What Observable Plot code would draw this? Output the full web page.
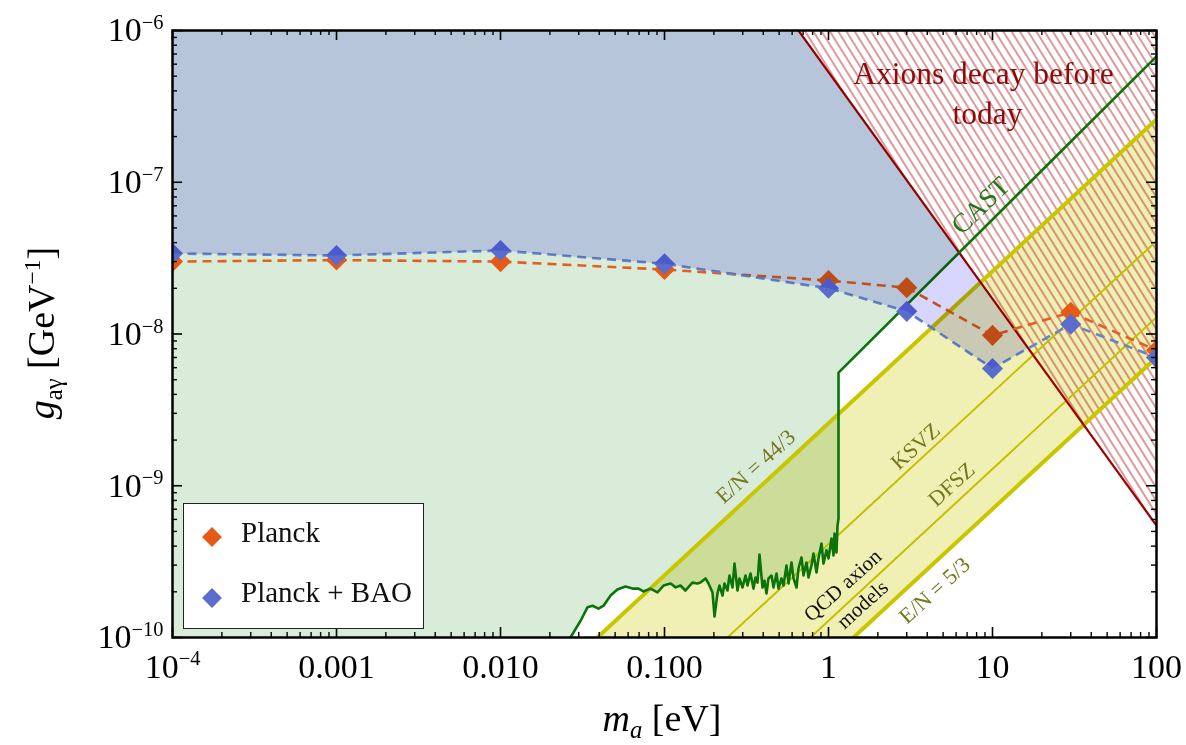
<!DOCTYPE html>
<html>
<head>
<meta charset="utf-8">
<script src="https://cdn.jsdelivr.net/npm/d3@7"></script>
<script src="https://cdn.jsdelivr.net/npm/@observablehq/plot@0.6"></script>
<style>
  html, body { margin: 0; padding: 0; background: white; }
  #wrap { position: relative; width: 1186px; height: 745px; }
  #legend { position: absolute; left: 183px; top: 503px; width: 241px; height: 126px;
    border: 1.5px solid #222; background: white; box-sizing: border-box;
    font-family: 'Liberation Serif', 'DejaVu Serif', serif; font-size: 29px; color: #111; }
  #legend .dia { position: absolute; width: 14px; height: 14px; transform: rotate(45deg); }
  #legend .lab { position: absolute; line-height: 1; white-space: pre; }
</style>
</head>
<body>
<div id="wrap"></div>
<script>
// ---------------- data ----------------
const massTicks = [1e-4, 1e-3, 1e-2, 1e-1, 1, 10, 100];
const massTickLabels = ["10^-4", "0.001", "0.010", "0.100", "1", "10", "100"];
const couplingTicks = [1e-10, 1e-9, 1e-8, 1e-7, 1e-6];
const couplingTickLabels = ["10^-10", "10^-9", "10^-8", "10^-7", "10^-6"];

const seriesNames = ["Planck", "Planck + BAO"];
const boundMass = [1e-4, 1e-3, 1e-2, 0.1, 1, 3, 10, 30, 100];
const planckBound = [3.0e-8, 3.07e-8, 3.0e-8, 2.66e-8, 2.25e-8, 2.02e-8, 9.8e-9, 1.39e-8, 7.8e-9];
const planckBaoBound = [3.39e-8, 3.29e-8, 3.55e-8, 2.9e-8, 2.0e-8, 1.41e-8, 5.93e-9, 1.16e-8, 7.0e-9];

// helioscope / haloscope limit (m [eV], g [GeV^-1])
const greenLimit = [
  [0.0267,1.0e-10],[0.0308,1.29e-10],[0.0339,1.58e-10],[0.0364,1.62e-10],[0.0396,1.55e-10],
  [0.0425,1.62e-10],[0.0469,1.89e-10],[0.0516,2.07e-10],[0.0578,2.17e-10],[0.0638,2.10e-10],
  [0.0694,2.10e-10],[0.0744,2.01e-10],[0.0822,2.10e-10],[0.0906,1.98e-10],[0.0986,2.20e-10],
  [0.109,2.27e-10],[0.117,2.14e-10],[0.125,2.20e-10],[0.134,2.04e-10],[0.148,2.30e-10],
  [0.159,2.27e-10],[0.1657,2.30e-10],[0.1778,2.45e-10],[0.1855,2.27e-10],[0.1962,1.98e-10],
  [0.2018,1.375e-10],[0.2104,1.95e-10],[0.2164,2.20e-10],[0.2258,1.89e-10],[0.2322,2.27e-10],
  [0.2421,2.04e-10],[0.2490,2.56e-10],[0.2598,2.135e-10],[0.2672,3.07e-10],[0.2787,2.04e-10],
  [0.2866,2.45e-10],[0.2990,2.135e-10],[0.3119,2.56e-10],[0.3208,2.20e-10],[0.3345,2.64e-10],
  [0.3489,2.10e-10],[0.3588,2.485e-10],[0.3690,2.30e-10],[0.3795,3.52e-10],[0.3959,2.135e-10],
  [0.4072,2.37e-10],[0.4188,1.95e-10],[0.4306,2.45e-10],[0.4492,2.56e-10],[0.4620,2.135e-10],
  [0.4819,2.64e-10],[0.4956,2.10e-10],[0.5169,2.45e-10],[0.5317,2.20e-10],[0.5546,2.98e-10],
  [0.5703,2.27e-10],[0.5949,3.12e-10],[0.6118,2.45e-10],[0.6381,2.135e-10],[0.6562,2.85e-10],
  [0.6845,3.37e-10],[0.7040,2.56e-10],[0.7343,3.12e-10],[0.7551,2.485e-10],[0.7876,2.98e-10],
  [0.8100,3.58e-10],[0.8449,2.68e-10],[0.8689,3.32e-10],[0.9063,4.16e-10],[0.9322,3.07e-10],
  [0.9723,3.75e-10],[1.0,3.32e-10],[1.043,4.49e-10],[1.073,3.47e-10],[1.088,4.84e-10],
  [1.119,3.63e-10],[1.135,5.47e-10],[1.151,6.08e-10],[1.151,5.57e-9]
];
const castEnd = [100, 6.74e-7];
const castDecayCrossing = [6.2, 3.44e-8];
const baoDecayCrossing = [16.5, 8.07e-9];

// QCD axion model lines: [bottom crossing, right edge]
const modelLines = {
  "E/N = 44/3": [[0.039, 1e-10], [100, 2.6e-7]],
  "KSVZ":       [[0.242, 1e-10], [100, 4.1e-8]],
  "DFSZ":       [[0.776, 1e-10], [100, 1.29e-8]],
  "E/N = 5/3":  [[1.42, 1e-10], [100, 7.0e-9]]
};
// lifetime line: axions decay before today
const decayLine = [[0.656, 1e-6], [100, 5.47e-10]];

// ---------------- derived geometry ----------------
const xMin = 1e-4, xMax = 100, yMin = 1e-10, yMax = 1e-6;
const P = (a) => ({m: a[0], g: a[1]});
const planckPts = boundMass.map((m, i) => ({m, g: planckBound[i]}));
const baoPts = boundMass.map((m, i) => ({m, g: planckBaoBound[i]}));
const greenCurve = greenLimit.map(P).concat([P(castEnd)]);
const greenPoly = [P([xMin, yMin])].concat(greenLimit.map(P),
  [P(castDecayCrossing), P(decayLine[0]), P([xMin, yMax])]);
const lavenderPoly = baoPts.filter(d => d.m <= 10).concat(
  [P(baoDecayCrossing), P(decayLine[0]), P([xMin, yMax])]);
const yellowPoly = [P(modelLines["E/N = 44/3"][0]), P(modelLines["E/N = 44/3"][1]),
  P(modelLines["E/N = 5/3"][1]), P(modelLines["E/N = 5/3"][0])];
const decayPoly = [P(decayLine[0]), P(decayLine[1]), P([xMax, yMax])];

const majorX = massTicks;
const minorX = [];
for (let e = -4; e <= 1; e++) for (let k = 2; k <= 9; k++) minorX.push(k * Math.pow(10, e));
const majorY = couplingTicks;
const minorY = [];
for (let e = -10; e <= -7; e++) for (let k = 2; k <= 9; k++) minorY.push(k * Math.pow(10, e));

const W = 1186, H = 745, mL = 172, mR = 30, mT = 30, mB = 108;
const plotW = W - mL - mR, plotH = H - mT - mB;
const MAJ = 10, MIN = 5;

const annotations = [
  {text: "Axions decay before", m: 8.81, g: 5.21e-7, rotate: 0, fill: "#8c0a0a", size: 31.5},
  {text: "today", m: 9.33, g: 2.84e-7, rotate: 0, fill: "#8c0a0a", size: 31.5},
  {text: "CAST", m: 8.45, g: 7.03e-8, rotate: -44, fill: "#187a18", size: 27},
  {text: "E/N = 44/3", m: 0.359, g: 1.34e-9, rotate: -42, fill: "#76761a", size: 22},
  {text: "KSVZ", m: 3.39, g: 1.82e-9, rotate: -42, fill: "#76761a", size: 22},
  {text: "DFSZ", m: 5.62, g: 1.02e-9, rotate: -42, fill: "#76761a", size: 22},
  {text: "QCD axion", m: 1.22, g: 2.2e-10, rotate: -42, fill: "#111", size: 21},
  {text: "models", m: 1.61, g: 1.65e-10, rotate: -42, fill: "#111", size: 21},
  {text: "E/N = 5/3", m: 4.43, g: 2.04e-10, rotate: -42, fill: "#76761a", size: 22}
];

const HATCH = "#fe01fe";
const modelStyles = {
  "E/N = 44/3": {stroke: "#c9c600", strokeWidth: 4},
  "KSVZ": {stroke: "#c4c000", strokeWidth: 2},
  "DFSZ": {stroke: "#c4c000", strokeWidth: 2},
  "E/N = 5/3": {stroke: "#c9c600", strokeWidth: 4}
};

const chart = Plot.plot({
  width: W, height: H,
  marginLeft: mL, marginRight: mR, marginTop: mT, marginBottom: mB,
  x: {type: "log", domain: [xMin, xMax]},
  y: {type: "log", domain: [yMin, yMax]},
  style: {fontFamily: "'Liberation Serif', 'DejaVu Serif', serif", fontSize: "34px", color: "black", background: "transparent"},
  marks: [
    Plot.line(greenPoly, {x: "m", y: "g", fill: "#d9ebd9", stroke: "none"}),
    Plot.line(yellowPoly, {x: "m", y: "g", fill: "#f0f0b4", stroke: "none", mixBlendMode: "multiply"}),
    Plot.line(decayPoly, {x: "m", y: "g", fill: HATCH, stroke: "none"}),
    ...Object.keys(modelLines).map(k => Plot.line(modelLines[k].map(P), {x: "m", y: "g", ...modelStyles[k], clip: true})),
    Plot.line(decayLine.map(P), {x: "m", y: "g", stroke: "#a30000", strokeWidth: 2.2, clip: true}),
    Plot.line(greenCurve, {x: "m", y: "g", stroke: "#0a740a", strokeWidth: 2.6, strokeLinejoin: "round", clip: true}),
    Plot.line(planckPts, {x: "m", y: "g", stroke: "#e4601e", strokeWidth: 2.6, strokeDasharray: "9,6", strokeLinecap: "butt", clip: true}),
    Plot.line(baoPts, {x: "m", y: "g", stroke: "#6585c4", strokeWidth: 2.6, strokeDasharray: "9,6", strokeLinecap: "butt", clip: true}),
    Plot.dot(planckPts, {x: "m", y: "g", symbol: "diamond2", r: 9.5, fill: "#e45a16", stroke: "none", clip: true}),
    Plot.dot(baoPts, {x: "m", y: "g", symbol: "diamond2", r: 9.5, fill: "#5a6ccc", stroke: "none", clip: true}),
    Plot.line(lavenderPoly, {x: "m", y: "g", fill: "#d6d6ff", stroke: "none", mixBlendMode: "multiply"}),
    ...annotations.map(a => Plot.text([a], {x: "m", y: "g", text: "text", rotate: a.rotate, fill: a.fill, fontSize: a.size, textAnchor: "middle", lineAnchor: "middle"})),
    // ticks on all four sides (inward)
    Plot.tickX(majorX, {x: d => d, insetTop: plotH - MAJ, stroke: "black", strokeWidth: 1.6}),
    Plot.tickX(minorX, {x: d => d, insetTop: plotH - MIN, stroke: "black", strokeWidth: 1.4}),
    Plot.tickX(majorX, {x: d => d, insetBottom: plotH - MAJ, stroke: "black", strokeWidth: 1.6}),
    Plot.tickX(minorX, {x: d => d, insetBottom: plotH - MIN, stroke: "black", strokeWidth: 1.4}),
    Plot.tickY(majorY, {y: d => d, insetRight: plotW - MAJ, stroke: "black", strokeWidth: 1.6}),
    Plot.tickY(minorY, {y: d => d, insetRight: plotW - MIN, stroke: "black", strokeWidth: 1.4}),
    Plot.tickY(majorY, {y: d => d, insetLeft: plotW - MAJ, stroke: "black", strokeWidth: 1.6}),
    Plot.tickY(minorY, {y: d => d, insetLeft: plotW - MIN, stroke: "black", strokeWidth: 1.4}),
    Plot.frame({stroke: "black", strokeWidth: 2.5}),
    Plot.axisX(massTicks, {anchor: "bottom", tickSize: 0, tickPadding: 16, fontSize: 34,
      tickFormat: d => massTickLabels[massTicks.indexOf(d)], label: null}),
    Plot.axisY(couplingTicks, {anchor: "left", tickSize: 0, tickPadding: 9, fontSize: 34,
      tickFormat: d => couplingTickLabels[couplingTicks.indexOf(d)], label: null})
  ]
});

// ---------------- post-processing ----------------
const svg = d3.select(chart);
const defs = svg.insert("defs", ":first-child");
const pat = defs.append("pattern").attr("id", "hatch").attr("patternUnits", "userSpaceOnUse")
  .attr("width", 7).attr("height", 7).attr("patternTransform", "rotate(-32)");
pat.append("line").attr("x1", 1).attr("y1", 0).attr("x2", 1).attr("y2", 7)
  .attr("stroke", "rgba(185,50,50,0.58)").attr("stroke-width", 1.7);
svg.selectAll(`[fill="${HATCH}"]`).attr("fill", "url(#hatch)");

// superscripts in tick labels
svg.selectAll("text").each(function () {
  const t = this.textContent;
  if (!t.includes("^")) return;
  const [base, exp] = t.split("^");
  const s = d3.select(this);
  s.text(null);
  s.append("tspan").text(base);
  s.append("tspan").style("font-size", "60%").attr("dy", "-0.6em").text(exp.replace("-", "\u2212"));
});

// axis titles
const xt = svg.append("text").attr("x", 662).attr("y", 731).attr("text-anchor", "middle")
  .style("font-size", "38px").attr("fill", "black");
xt.append("tspan").style("font-style", "italic").text("m");
xt.append("tspan").style("font-style", "italic").style("font-size", "65%").attr("dy", "7").text("a");
xt.append("tspan").attr("dy", "-7").text(" [eV]");

const yt = svg.append("text").attr("transform", "translate(54,333) rotate(-90)")
  .attr("text-anchor", "middle").style("font-size", "38px").attr("fill", "black");
yt.append("tspan").style("font-style", "italic").text("g");
yt.append("tspan").style("font-size", "65%").attr("dy", "8").text("a\u03b3");
yt.append("tspan").attr("dy", "-8").text(" [GeV");
yt.append("tspan").style("font-size", "62%").attr("dy", "-14").text("\u22121");
yt.append("tspan").attr("dy", "14").text("]");

const wrap = document.getElementById("wrap");
wrap.appendChild(chart);

// legend
const legend = document.createElement("div");
legend.id = "legend";
const legendColors = ["#e45a16", "#5a6ccc"];
seriesNames.forEach((name, i) => {
  const dia = document.createElement("div");
  dia.className = "dia";
  dia.style.background = legendColors[i];
  dia.style.left = "21px";
  dia.style.top = (i === 0 ? 26 : 87) + "px";
  legend.appendChild(dia);
  const lab = document.createElement("div");
  lab.className = "lab";
  lab.style.left = "57px";
  lab.style.top = (i === 0 ? 14 : 74) + "px";
  lab.textContent = name;
  legend.appendChild(lab);
});
wrap.appendChild(legend);
</script>
</body>
</html>
